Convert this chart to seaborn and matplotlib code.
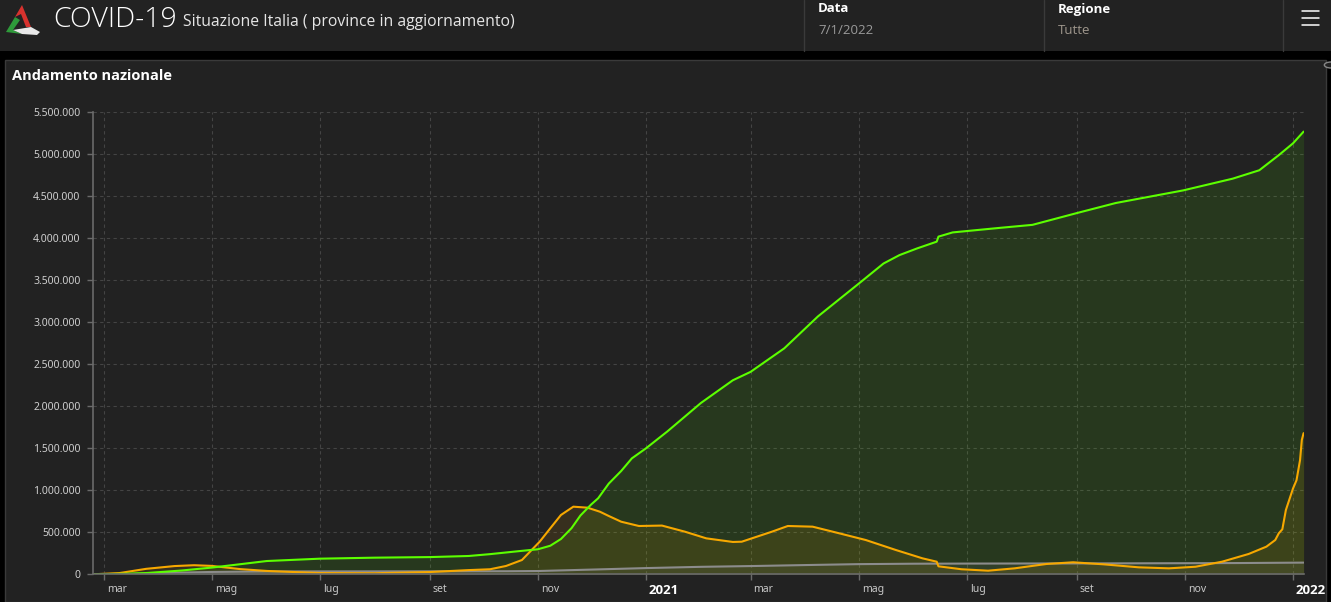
import matplotlib
matplotlib.use("Agg")
import matplotlib.pyplot as plt
import matplotlib.transforms as mtransforms
from matplotlib.patches import Rectangle, Polygon, Circle
from matplotlib.lines import Line2D
import pandas as pd
import seaborn as sns

# dimessi guariti (verde)
guariti_date = [
    "2020-02-24", "2020-03-10", "2020-03-25", "2020-04-14", "2020-05-01",
    "2020-05-17", "2020-06-01", "2020-07-01", "2020-08-01", "2020-09-01",
    "2020-09-23", "2020-10-05", "2020-10-21", "2020-11-01", "2020-11-08",
    "2020-11-14", "2020-11-20", "2020-11-25", "2020-12-01", "2020-12-05",
    "2020-12-11", "2020-12-18", "2020-12-24", "2021-01-01", "2021-01-13",
    "2021-02-01", "2021-02-19", "2021-03-01", "2021-03-20", "2021-04-08",
    "2021-05-01", "2021-05-15", "2021-05-24", "2021-06-03", "2021-06-14",
    "2021-06-15", "2021-06-23", "2021-07-20", "2021-08-07", "2021-09-01",
    "2021-09-23", "2021-10-31", "2021-11-28", "2021-12-13", "2021-12-24",
    "2022-01-01", "2022-01-04", "2022-01-07",
]
guariti = [
    0, 5000, 15000, 45000, 80000,
    120000, 158000, 186000, 198000, 205000,
    218000, 240000, 275000, 298000, 340000,
    420000, 550000, 700000, 830000, 905000,
    1080000, 1230000, 1380000, 1500000, 1700000,
    2040000, 2310000, 2410000, 2690000, 3070000,
    3460000, 3700000, 3800000, 3880000, 3960000,
    4020000, 4070000, 4125000, 4160000, 4300000,
    4420000, 4570000, 4710000, 4810000, 4990000,
    5130000, 5200000, 5270000,
]

# totale positivi (arancione)
positivi_date = [
    "2020-02-24", "2020-03-10", "2020-03-25", "2020-04-10", "2020-04-21",
    "2020-05-01", "2020-05-17", "2020-06-01", "2020-07-01", "2020-08-01",
    "2020-09-01", "2020-09-23", "2020-10-05", "2020-10-14", "2020-10-23",
    "2020-11-02", "2020-11-08", "2020-11-14", "2020-11-21", "2020-11-29",
    "2020-12-06", "2020-12-11", "2020-12-18", "2020-12-28", "2021-01-10",
    "2021-01-23", "2021-02-04", "2021-02-19", "2021-02-24", "2021-03-13",
    "2021-03-22", "2021-04-05", "2021-04-20", "2021-05-05", "2021-05-22",
    "2021-06-06", "2021-06-14", "2021-06-15", "2021-06-28", "2021-07-13",
    "2021-07-28", "2021-08-15", "2021-08-30", "2021-09-16", "2021-10-06",
    "2021-10-23", "2021-11-07", "2021-11-22", "2021-12-07", "2021-12-17",
    "2021-12-22", "2021-12-24", "2021-12-26", "2021-12-28", "2022-01-01",
    "2022-01-03", "2022-01-05", "2022-01-06", "2022-01-07",
]
positivi = [
    0, 15000, 65000, 98000, 108000,
    100000, 62000, 40000, 15000, 13000,
    27000, 50000, 60000, 99000, 170000,
    388000, 548000, 706000, 805000, 793000,
    745000, 694000, 626000, 575000, 580000,
    507000, 428000, 385000, 388000, 507000,
    575000, 567000, 488000, 408000, 289000,
    190000, 150000, 95000, 60000, 43000,
    71000, 123000, 143000, 119000, 83000,
    71000, 90000, 150000, 242000, 329000,
    408000, 488000, 536000, 765000, 1020000,
    1120000, 1360000, 1600000, 1680000,
]

# deceduti (grigio)
deceduti_date = [
    "2020-02-24", "2020-03-15", "2020-04-01", "2020-04-15", "2020-05-01",
    "2020-06-01", "2020-07-01", "2020-09-01", "2020-10-15", "2020-11-01",
    "2020-12-01", "2021-01-01", "2021-02-01", "2021-03-01", "2021-04-01",
    "2021-05-01", "2021-06-01", "2021-07-01", "2021-09-01", "2021-11-01",
    "2021-12-01", "2022-01-07",
]
deceduti = [
    0, 1800, 13000, 21000, 28000,
    33500, 34800, 35500, 36400, 39000,
    56000, 74000, 89000, 98000, 110000,
    121000, 126000, 127600, 129500, 132000,
    134000, 139000,
]

x_tick_dates = [
    "2020-03-01", "2020-05-01", "2020-07-01", "2020-09-01", "2020-11-01",
    "2021-01-01", "2021-03-01", "2021-05-01", "2021-07-01", "2021-09-01",
    "2021-11-01", "2022-01-01",
]
x_tick_labels = ["mar", "mag", "lug", "set", "nov", "2021",
                 "mar", "mag", "lug", "set", "nov", "2022"]
y_ticks = list(range(0, 5500001, 500000))

W, H = 1331, 602
BG = "#222222"
HEAD_FONT = ["Open Sans", "DejaVu Sans"]

sns.set_style("dark", {
    "axes.facecolor": BG,
    "figure.facecolor": "black",
    "xtick.bottom": True,
    "ytick.left": True,
})
plt.rcParams["font.family"] = ["Noto Sans", "DejaVu Sans"]


def fx(x):
    return x / W


def fy(y):
    return 1 - y / H


fig = plt.figure(figsize=(W / 100, H / 100), dpi=100, facecolor="black")

# header e pannello
fig.add_artist(Rectangle((0, fy(51)), 1, 51 / H, transform=fig.transFigure,
                         facecolor=BG, edgecolor="none", zorder=-5))
fig.add_artist(Rectangle((fx(5), 0), fx(1321), fy(60), transform=fig.transFigure,
                         facecolor=BG, edgecolor="#3a3a3a", linewidth=1, zorder=-5))
for sx in [803.5, 1043.5, 1283]:
    fig.add_artist(Line2D([fx(sx), fx(sx)], [fy(0), fy(51)], transform=fig.transFigure,
                          color="#3a3a3a", linewidth=1))
for hy in [11, 17.5, 25]:
    fig.add_artist(Line2D([fx(1302), fx(1319)], [fy(hy), fy(hy)], transform=fig.transFigure,
                          color="white", linewidth=1.1))
fig.add_artist(Circle((fx(1331), fy(65)), 0.005, transform=fig.transFigure,
                      facecolor=BG, edgecolor="#888888", linewidth=1))


# logo
def pts(lst):
    return [(fx(a), fy(b)) for a, b in lst]


fig.add_artist(Polygon(pts([(6, 32), (15, 17), (20, 20), (13, 30), (22, 34)]),
                       closed=True, transform=fig.transFigure, facecolor="#2e9a3a", edgecolor="none"))
fig.add_artist(Polygon(pts([(22, 34), (13, 30), (31, 27), (40, 32), (37, 35)]),
                       closed=True, transform=fig.transFigure, facecolor="#e8e8e8", edgecolor="none"))
fig.add_artist(Polygon(pts([(15, 17), (22, 5), (31, 27), (26, 27), (21, 14)]),
                       closed=True, transform=fig.transFigure, facecolor="#d8322e", edgecolor="none"))

fig.text(fx(53), fy(20), "COVID-19", fontsize=20.5, color="white", va="center",
         ha="left", family=HEAD_FONT, fontweight="light")
fig.text(fx(183), fy(22), "Situazione Italia ( province in aggiornamento)", fontsize=11.3,
         color="#e6e6e6", va="center", ha="left", family=HEAD_FONT)
fig.text(fx(818), fy(9), "Data", fontsize=9.5, color="white", weight="bold",
         va="center", ha="left", family=HEAD_FONT)
fig.text(fx(818), fy(30), "7/1/2022", fontsize=9.5, color="#9a9a9a",
         va="center", ha="left", family=HEAD_FONT)
fig.text(fx(1058), fy(9), "Regione", fontsize=9.5, color="white", weight="bold",
         va="center", ha="left", family=HEAD_FONT)
fig.text(fx(1058), fy(30), "Tutte", fontsize=9.5, color="#9e968c",
         va="center", ha="left", family=HEAD_FONT)
fig.text(fx(12), fy(76), "Andamento nazionale", fontsize=10.5, color="white", weight="bold",
         va="center", ha="left", family=HEAD_FONT)

# grafico
ax = fig.add_axes([fx(93), fy(574.3), fx(1303.6 - 93), (574.3 - 112.3) / H])
ax.set_facecolor("none")

series = [
    (guariti_date, guariti, "#5cff00"),
    (positivi_date, positivi, "#f7a800"),
    (deceduti_date, deceduti, "#8c8c8c"),
]
for d, v, c in series:
    ax.fill_between(pd.to_datetime(d), v, color=c, alpha=0.1, linewidth=0)
for d, v, c in series[::-1]:
    sns.lineplot(x=pd.to_datetime(d), y=v, ax=ax, color=c, linewidth=1.5)

ax.set_xlim(pd.Timestamp("2020-02-24"), pd.Timestamp("2022-01-07"))
ax.set_ylim(0, 5500000)
ax.set_yticks(y_ticks)
ax.set_yticklabels([f"{v:,}".replace(",", ".") for v in y_ticks])
ax.set_xticks(pd.to_datetime(x_tick_dates))
ax.set_xticklabels(x_tick_labels)
ax.set_xlabel("")
ax.set_ylabel("")

ax.grid(True, color="#444444", linestyle=(0, (3, 3)), linewidth=0.8)
ax.set_axisbelow(True)
for s in ["top", "right"]:
    ax.spines[s].set_visible(False)
for s in ["left", "bottom"]:
    ax.spines[s].set_color("#6a6a6a")
    ax.spines[s].set_linewidth(1.2)

ax.tick_params(axis="y", length=4, width=1, color="#6a6a6a", labelcolor="#cfcfcf",
               labelsize=7.5, pad=5)
ax.tick_params(axis="x", length=4, width=1, color="#6a6a6a", labelcolor="#c8c8c8",
               labelsize=7.5, pad=3)

offset = mtransforms.ScaledTranslation(3 / 100, 0, fig.dpi_scale_trans)
for lab in ax.get_xticklabels():
    lab.set_horizontalalignment("left")
    lab.set_transform(lab.get_transform() + offset)
    if lab.get_text().isdigit():
        lab.set_family(HEAD_FONT)
        lab.set_fontweight("bold")
        lab.set_fontsize(9.5)
        lab.set_color("white")

fig.savefig("out.png", dpi=100, facecolor="black")
